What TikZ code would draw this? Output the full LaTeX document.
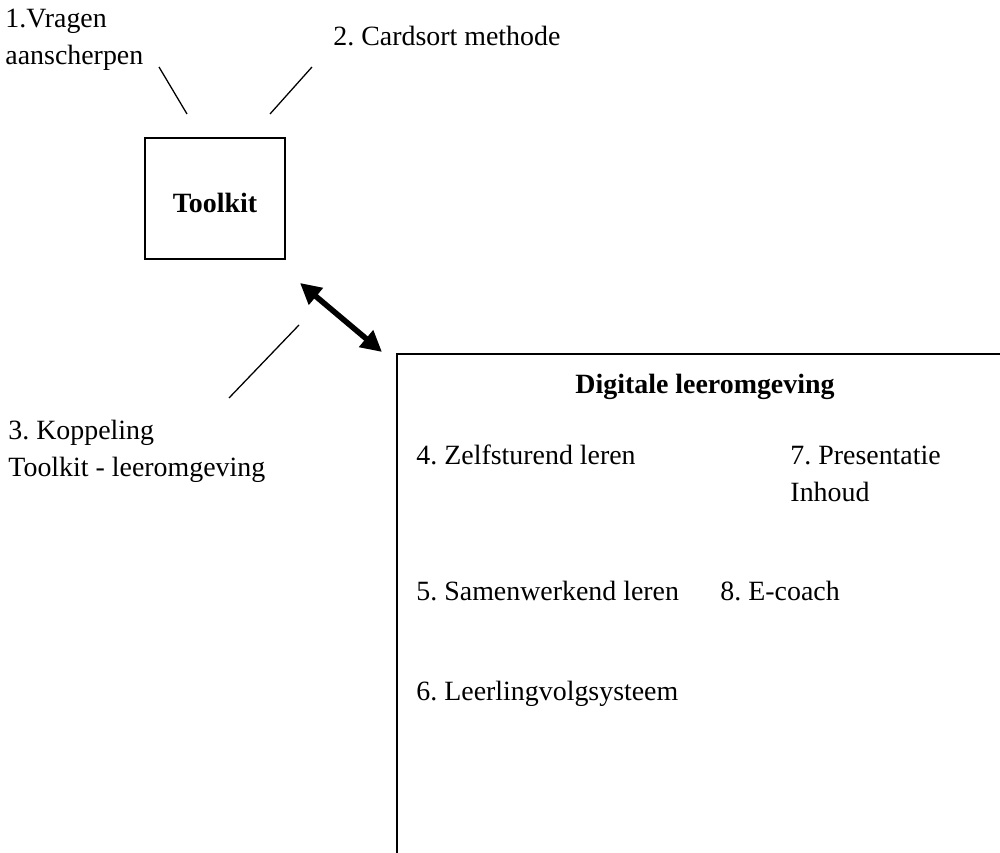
\documentclass[tikz,border=0pt]{standalone}
\usepackage{fontspec}
\setmainfont{Liberation Serif}
\frenchspacing
\usetikzlibrary{arrows.meta}
\begin{document}
\begin{tikzpicture}[x=0.4302pt,y=-0.4302pt,
  lbl/.style={anchor=base west,inner sep=0pt,font=\fontsize{12}{14}\selectfont},
  boldlbl/.style={lbl,font=\fontsize{12}{14}\selectfont\bfseries},
  thinline/.style={line width=0.55pt},
  boxline/.style={line width=0.9pt},
  dbl/.style={line width=2.4pt,{Triangle[length=9pt,width=9pt]}-{Triangle[length=9pt,width=9pt]}}]
\useasboundingbox (0,0) rectangle (1000,853);
\clip (0,0) rectangle (1000,853);
% labels top
\node[lbl] (l1a) at (5,28) {1.Vragen};
\node[lbl] (l1b) at (5,65) {aanscherpen};
\node[lbl] (l2) at (333,46) {2. Cardsort methode};
% toolkit box
\node[draw,boxline,minimum width=60.2pt,minimum height=52.05pt,inner sep=0pt,anchor=north west] (toolkit) at (144,137) {};
\node[boldlbl,anchor=center,yshift=-2pt] (tk) at (toolkit.center) {Toolkit};
% lines
\coordinate (c1a) at (159,67); \coordinate (c1b) at (187,114);
\coordinate (c2a) at (312,67); \coordinate (c2b) at (270,114);
\coordinate (c3a) at (299,325); \coordinate (c3b) at (229,398);
\draw[thinline] (c1a) -- (c1b);
\draw[thinline] (c2a) -- (c2b);
\draw[thinline] (c3a) -- (c3b);
% arrow
\coordinate (a1) at (300,283); \coordinate (a2) at (382,352);
\draw[dbl] (a1) -- (a2);
% koppeling label
\node[lbl] (l3a) at (8,440) {3. Koppeling};
\node[lbl] (l3b) at (8,477) {Toolkit - leeromgeving};
% big box (clipped)
\coordinate (b1) at (397,870); \coordinate (b2) at (397,354); \coordinate (b3) at (1020,354);
\draw[boxline] (b1) -- (b2) -- (b3);
\node[boldlbl] (dle) at (575,394) {Digitale leeromgeving};
\node[lbl] (l4) at (416,465) {4. Zelfsturend leren};
\node[lbl] (l7a) at (790,465) {7. Presentatie};
\node[lbl] (l7b) at (790,502) {Inhoud};
\node[lbl] (l5) at (416,601) {5. Samenwerkend leren};
\node[lbl] (l8) at (720,601) {8. E-coach};
\node[lbl] (l6) at (416,701) {6. Leerlingvolgsysteem};
\end{tikzpicture}
\end{document}
